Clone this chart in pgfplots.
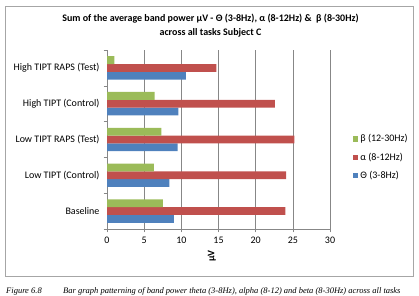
\documentclass[border=0pt]{standalone}
\usepackage{pgfplots}
\pgfplotsset{compat=1.18}
\usepackage{pgfplotstable}
\usepackage{fontspec}
\setmainfont{Carlito}
\newfontfamily\capfont{Liberation Serif}

\definecolor{thetablue}{HTML}{4F81BD}
\definecolor{alphared}{HTML}{C0504D}
\definecolor{betagreen}{HTML}{9BBB59}
\definecolor{gridgray}{HTML}{878787}
\definecolor{framegray}{HTML}{A6A6A6}

% Sum of average band power per task (0 = Baseline ... 4 = High TIPT RAPS (Test))
\pgfplotstableread{
cat theta alpha beta
0   9.0   24.0  7.5
1   8.4   24.1  6.3
2   9.5   25.2  7.3
3   9.6   22.6  6.4
4   10.6  14.7  1.0
}\bandpower

\begin{document}
\begin{tikzpicture}[x=1pt,y=1pt]
\useasboundingbox (0,0) rectangle (419,296);
% chart frame
\draw[framegray, line width=0.9pt] (5,20) rectangle (413,290);
% title
\node[font=\bfseries\fontsize{10}{14.5}\selectfont, align=center] at (210.5,270.4)
  {Sum of the average band power µV - Θ (3-8Hz), α (8-12Hz) \& \ β (8-30Hz)\\across all tasks Subject C};

\begin{axis}[
  at={(107pt,67pt)}, anchor=south west,
  scale only axis, width=223pt, height=179pt,
  xmin=0, xmax=30, ymin=-0.5, ymax=4.5,
  xtick={0,5,...,30},
  /pgf/number format/assume math mode=true,
  xmajorgrids, grid style={gridgray, line width=0.6pt},
  axis x line*=bottom, axis y line*=left,
  axis line style={gridgray, line width=0.6pt, -},
  tick align=outside, major tick length=3.5pt,
  tick style={gridgray, line width=0.6pt},
  ytick={-0.5,0.5,...,4.5}, yticklabels={},
  extra y ticks={0,1,2,3,4},
  extra y tick labels={Baseline, Low TIPT (Control), Low TIPT RAPS (Test), High TIPT (Control), High TIPT RAPS (Test)},
  extra y tick style={major tick length=0pt, yticklabel style={xshift=-4pt}},
  ticklabel style={font=\fontsize{10}{12}\selectfont, text=black},
  xticklabel style={yshift=-1pt},
  xlabel={µV},
  xlabel style={font=\bfseries\fontsize{10}{12}\selectfont, rotate=90, anchor=center,
                at={(axis description cs:0.47,-0.151)}},
  xbar, bar width=7.8pt,
  reverse legend,
  legend style={at={(rel axis cs:1.09,0.40)}, anchor=west, draw=none, fill=none,
                font=\fontsize{10}{12}\selectfont, row sep=5.5pt,
                legend cell align=left},
  legend image code/.code={\fill[#1] (0pt,-2.6pt) rectangle (5.2pt,2.6pt);},
]
\addplot[fill=thetablue, draw=none, bar shift=-7.8pt] table[x=theta, y=cat]{\bandpower};
\addplot[fill=alphared, draw=none, bar shift=0pt] table[x=alpha, y=cat]{\bandpower};
\addplot[fill=betagreen, draw=none, bar shift=7.8pt] table[x=beta, y=cat]{\bandpower};
\legend{Θ (3-8Hz), α (8-12Hz), β (12-30Hz)}
\end{axis}

% figure caption below the chart
\node[anchor=base west, inner sep=0, font=\capfont\itshape\fontsize{8.5}{10}\selectfont] at (6,2.4) {Figure 6.8};
\node[anchor=base west, inner sep=0, font=\capfont\itshape\fontsize{8.5}{10}\selectfont] at (63,2.4)
  {Bar graph patterning of band power theta (3-8Hz), alpha (8-12) and beta (8-30Hz) across all tasks};
\end{tikzpicture}
\end{document}
